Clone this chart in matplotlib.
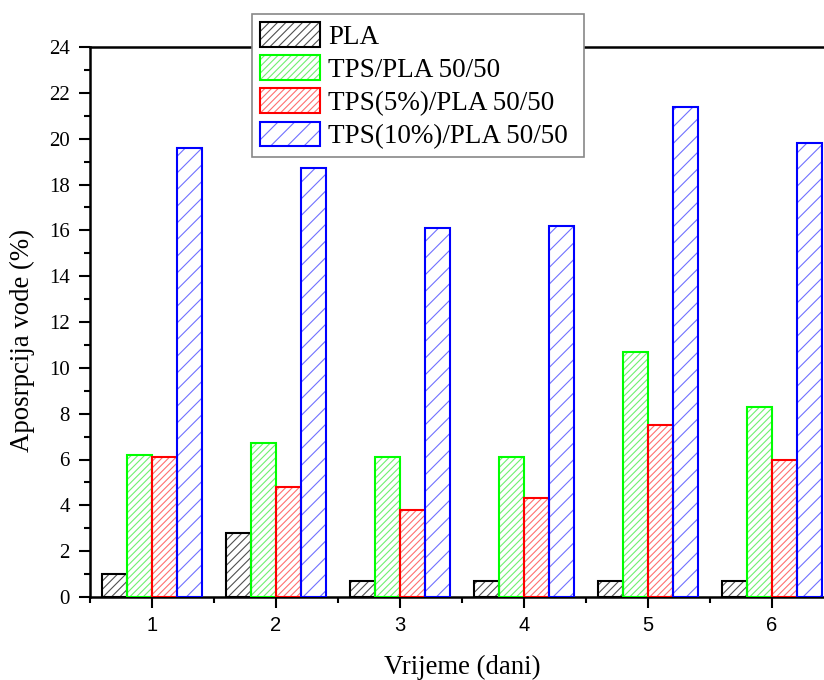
import matplotlib
matplotlib.use("Agg")
import matplotlib.pyplot as plt
from matplotlib.patches import Patch
from matplotlib.legend_handler import HandlerTuple
from matplotlib.ticker import MultipleLocator, FixedLocator
import numpy as np

days = [1, 2, 3, 4, 5, 6]
series_names = ["PLA", "TPS/PLA 50/50", "TPS(5%)/PLA 50/50", "TPS(10%)/PLA 50/50"]
pla = [1.0, 2.8, 0.7, 0.7, 0.7, 0.7]
tps_pla = [6.2, 6.7, 6.1, 6.1, 10.7, 8.3]
tps5_pla = [6.1, 4.8, 3.8, 4.3, 7.5, 6.0]
tps10_pla = [19.6, 18.7, 16.1, 16.2, 21.4, 19.8]
values = [pla, tps_pla, tps5_pla, tps10_pla]

edge_colors = ["#000000", "#00FF00", "#FF0000", "#0000FF"]
hatch_colors = ["#505050", "#70F070", "#FF7070", "#7070FF"]
hatches = ["////", "/////", "/////", "//"]

plt.rcParams["hatch.linewidth"] = 0.8

fig = plt.figure(figsize=(8.24, 6.8), dpi=100)
ax = fig.add_axes([90/824, 1 - 597/680, (834 - 90)/824, (597 - 47)/680])

x = np.array(days, dtype=float)
width = 0.2
handles = []
for i, (vals, ec, hc, h) in enumerate(zip(values, edge_colors, hatch_colors, hatches)):
    pos = x - 0.4 + width * i
    ax.bar(pos, vals, width=width, align="edge", facecolor="none",
           edgecolor=hc, hatch=h, linewidth=0, zorder=2)
    ax.bar(pos, vals, width=width, align="edge", facecolor="none",
           edgecolor=ec, linewidth=1.5, zorder=3)
    p1 = Patch(facecolor="white", edgecolor=hc, hatch=h, linewidth=0)
    p2 = Patch(facecolor="none", edgecolor=ec, linewidth=1.5)
    handles.append((p1, p2))

ax.set_xlim(0.5, 6.5)
ax.set_ylim(0, 24)
ax.set_xticks(days)
ax.set_xticklabels([str(d) for d in days], family="Liberation Sans", fontsize=14.5)
ax.xaxis.set_minor_locator(FixedLocator(np.arange(0.5, 7.0, 1.0)))
ax.yaxis.set_major_locator(MultipleLocator(2))
ax.yaxis.set_minor_locator(MultipleLocator(1))
for lab in ax.get_yticklabels():
    lab.set_family("Liberation Serif")
    lab.set_fontsize(15)
ax.tick_params(axis="both", which="major", direction="out", length=8, width=1.5)
ax.tick_params(axis="y", which="major", pad=6.5)
ax.tick_params(axis="x", which="major", pad=6)
ax.tick_params(axis="both", which="minor", direction="out", length=4, width=1.5)
for s in ax.spines.values():
    s.set_linewidth(1.8)

ax.set_xlabel("Vrijeme (dani)", family="Liberation Serif", fontsize=19.3, labelpad=14)
ax.set_ylabel("Aposrpcija vode (%)", family="Liberation Serif", fontsize=19.3, labelpad=10)
ax.yaxis.label.set_y(0.467)

leg = fig.legend(handles, series_names, handler_map={tuple: HandlerTuple(ndivide=1)},
                 loc="upper left", bbox_to_anchor=(252/824, 1 - 153/680, 332/824, 139/680),
                 mode="expand",
                 prop={"family": "Liberation Serif", "size": 19.5},
                 frameon=True, fancybox=False, framealpha=1, edgecolor="#888888",
                 handlelength=2.2, handleheight=1.04, handletextpad=0.3,
                 labelspacing=0.2, borderpad=0.3, borderaxespad=0)
leg.get_frame().set_linewidth(1.2)

fig.savefig("out.png", dpi=100)
